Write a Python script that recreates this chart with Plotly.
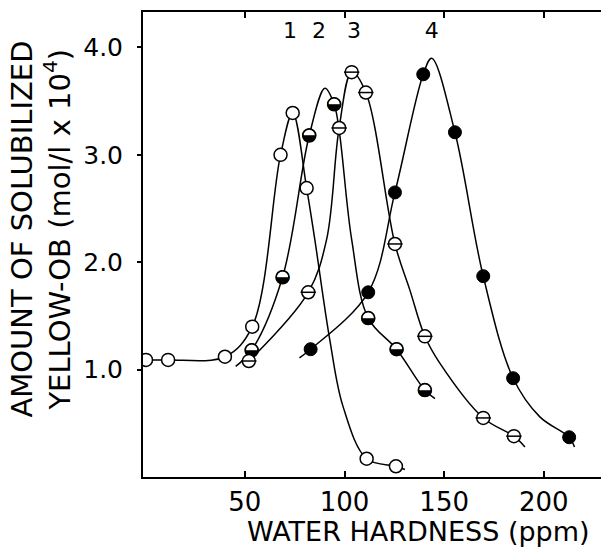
import plotly.graph_objects as go

# measured points (water hardness in ppm, solubilized amount in mol/l x 10^4)
hard_1 = [0.4, 11.5, 40.0, 53.7, 67.9, 74.0, 81.0, 111.1, 125.8]
amt_1 = [1.09, 1.09, 1.12, 1.40, 3.00, 3.39, 2.69, 0.17, 0.10]

hard_2 = [53.4, 68.9, 82.3, 94.8, 111.9, 126.1, 140.3]
amt_2 = [1.18, 1.86, 3.18, 3.47, 1.48, 1.19, 0.81]

hard_3 = [52.0, 81.8, 97.3, 103.6, 110.7, 125.3, 140.3, 169.6, 185.0]
amt_3 = [1.08, 1.72, 3.25, 3.77, 3.58, 2.17, 1.31, 0.55, 0.38]

hard_4 = [83.0, 111.9, 125.3, 139.5, 155.4, 169.6, 184.6, 212.7]
amt_4 = [1.19, 1.72, 2.65, 3.75, 3.21, 1.87, 0.92, 0.37]

# hand drawn curves
curve_x_1 = [0, 11.5, 40.0, 53.7, 67.9, 74.0, 81.0, 85.1, 92.6, 99.2, 111.1, 125.8, 130.3]
curve_y_1 = [1.09, 1.09, 1.12, 1.40, 3.00, 3.39, 2.69, 2.21, 1.28, 0.66, 0.17, 0.10, 0.07]

curve_x_2 = [45.4, 53.4, 68.9, 82.3, 90.2, 94.8, 97.5, 103.6, 111.9, 126.1, 140.3, 145.4]
curve_y_2 = [1.03, 1.18, 1.86, 3.18, 3.62, 3.47, 3.20, 2.21, 1.48, 1.19, 0.81, 0.73]

curve_x_3 = [52.0, 81.8, 91.0, 97.3, 103.6, 110.7, 125.3, 132.8, 140.3, 147.8, 169.6, 185.0, 190.5]
curve_y_3 = [1.08, 1.72, 2.21, 3.25, 3.77, 3.58, 2.17, 1.74, 1.31, 1.06, 0.55, 0.38, 0.28]

curve_x_4 = [77.4, 83.0, 111.9, 125.3, 139.5, 143.7, 155.4, 169.6, 184.6, 198.0, 212.7, 215.4]
curve_y_4 = [1.11, 1.19, 1.72, 2.65, 3.75, 3.90, 3.21, 1.87, 0.92, 0.56, 0.37, 0.28]

curve_labels = ['1', '2', '3', '4']
label_x = [72.6, 87.2, 104.7, 143.8]
label_y = [4.14, 4.14, 4.14, 4.14]

x_ticks = [50, 100, 150, 200]
y_ticks = [1, 2, 3, 4]
y_ticktext = ['1.0', '2.0', '3.0', '4.0']

FONT = 'DejaVu Sans'
MS = 13

fig = go.Figure()

for cx, cy in [(curve_x_1, curve_y_1), (curve_x_2, curve_y_2),
               (curve_x_3, curve_y_3), (curve_x_4, curve_y_4)]:
    fig.add_trace(go.Scatter(
        x=cx, y=cy, mode='lines',
        line=dict(color='black', width=1.5, shape='spline', smoothing=1),
        hoverinfo='skip',
    ))

# 1: open circles
fig.add_trace(go.Scatter(
    x=hard_1, y=amt_1, mode='markers',
    marker=dict(symbol='circle', size=MS, color='white', line=dict(color='black', width=1.5)),
))
# 2: lower half black
fig.add_trace(go.Scatter(
    x=hard_2, y=amt_2, mode='markers',
    marker=dict(symbol='circle', size=MS, color='white', line=dict(color='black', width=1.5)),
))
fig.add_trace(go.Scatter(
    x=hard_2, y=amt_2, mode='text', text=['◒'] * len(hard_2),
    textposition='middle center',
    textfont=dict(family=FONT, size=18, color='black'),
))
# 3: circle with bar
fig.add_trace(go.Scatter(
    x=hard_3, y=amt_3, mode='markers',
    marker=dict(symbol='circle', size=MS, color='white', line=dict(color='black', width=1.5)),
))
fig.add_trace(go.Scatter(
    x=hard_3, y=amt_3, mode='markers',
    marker=dict(symbol='line-ew', size=MS - 2, line=dict(color='black', width=1.5)),
))
# 4: filled
fig.add_trace(go.Scatter(
    x=hard_4, y=amt_4, mode='markers',
    marker=dict(symbol='circle', size=MS, color='black', line=dict(color='black', width=1)),
))

fig.add_trace(go.Scatter(
    x=label_x, y=label_y, mode='text', text=curve_labels,
    textposition='middle center',
    textfont=dict(family=FONT, size=22, color='black'),
    cliponaxis=False,
))

# plot area runs on past the right edge of the window, as in the scan
fig.update_layout(
    width=612, height=550,
    margin=dict(l=143, r=0, t=12, b=73),
    plot_bgcolor='white', paper_bgcolor='white',
    showlegend=False,
    font=dict(family=FONT, color='black'),
)
fig.update_xaxes(
    range=[-1.1, 234.2], tickvals=x_ticks,
    ticks='inside', ticklen=6, tickwidth=1.5, tickcolor='black',
    showline=True, linewidth=2, linecolor='black', mirror='ticks',
    showgrid=False, zeroline=False,
    tickfont=dict(size=26), ticklabelstandoff=1,
)
fig.update_yaxes(
    range=[0, 4.33], tickvals=y_ticks, ticktext=y_ticktext,
    ticks='outside', ticklen=4, tickwidth=1.5, tickcolor='black',
    showline=True, linewidth=2, linecolor='black', mirror=False,
    showgrid=False, zeroline=False,
    tickfont=dict(size=25), ticklabelstandoff=9,
)

fig.add_annotation(
    text='AMOUNT OF SOLUBILIZED', xref='paper', yref='paper',
    x=(22 - 143) / 469, y=0.532, textangle=-90, showarrow=False,
    xanchor='center', yanchor='middle', font=dict(size=29),
)
fig.add_annotation(
    text='YELLOW-OB (mol/l x 10<sup>4</sup>)', xref='paper', yref='paper',
    x=(57 - 143) / 469, y=0.532, textangle=-90, showarrow=False,
    xanchor='center', yanchor='middle', font=dict(size=29),
)
fig.add_annotation(
    text='WATER HARDNESS (ppm)', xref='x', yref='paper',
    x=50, y=-0.118, xanchor='left', yanchor='middle', showarrow=False,
    font=dict(size=27),
)

# drop the page's default body margin and any scrollbars
fig.write_html(
    'out.html',
    config={'displayModeBar': False},
    post_script="document.body.style.margin = '0'; document.body.style.overflow = 'hidden';",
)
